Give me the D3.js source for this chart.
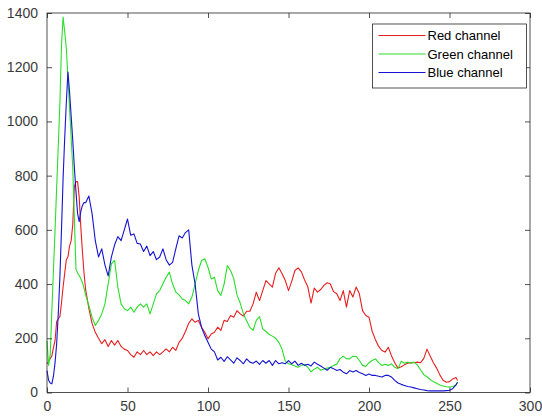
<!DOCTYPE html>
<html>
<head>
<meta charset="utf-8">
<script src="https://cdn.jsdelivr.net/npm/d3@7"></script>
<style>
  body { margin: 0; background: #fff; }
  svg { display: block; }
</style>
</head>
<body>
<script>
// Configuration
var width = 542;
var height = 418;
var plotLeft = 47;
var plotRight = 530;
var plotTop = 13;
var plotBottom = 392.5;
var fontFamily = 'Liberation Sans, Arial, Helvetica, sans-serif';

// Intensity bins: every bin up to 23, then every second bin
var bins = [
    0, 1, 2, 3, 4, 5, 6, 7, 8, 9, 10, 11, 12, 13, 14, 15, 16, 17, 18, 19, 20, 21, 22, 23,
    24, 26, 28, 30, 32, 34, 36, 38, 40, 42, 44, 46, 48, 50, 52, 54, 56, 58, 60, 62,
    64, 66, 68, 70, 72, 74, 76, 78, 80, 82, 84, 86, 88, 90, 92, 94, 96, 98, 100, 102,
    104, 106, 108, 110, 112, 114, 116, 118, 120, 122, 124, 126, 128, 130, 132, 134, 136, 138, 140, 142,
    144, 146, 148, 150, 152, 154, 156, 158, 160, 162, 164, 166, 168, 170, 172, 174, 176, 178, 180, 182,
    184, 186, 188, 190, 192, 194, 196, 198, 200, 202, 204, 206, 208, 210, 212, 214, 216, 218, 220, 222,
    224, 226, 228, 230, 232, 234, 236, 238, 240, 242, 244, 246, 248, 250, 252, 254, 255
];

var redCounts = [
    106, 115, 125, 135, 165, 192, 262, 272, 280, 330, 390, 440, 490, 500, 540, 560, 620, 760, 778, 778, 720, 610, 520, 440,
    380, 310, 255, 222, 200, 180, 195, 170, 192, 175, 192, 170, 160, 155, 140, 130, 150, 140, 155, 140,
    150, 136, 150, 140, 150, 161, 150, 167, 155, 185, 200, 225, 255, 272, 259, 266, 241, 222, 198, 216,
    222, 241, 229, 266, 262, 284, 278, 302, 290, 282, 300, 300, 327, 370, 339, 376, 413, 401, 389, 440,
    460, 438, 413, 376, 410, 450, 460, 445, 415, 390, 330, 385, 370, 380, 395, 405, 400, 372, 364, 339,
    376, 315, 376, 352, 389, 364, 302, 284, 278, 225, 195, 170, 155, 149, 167, 135, 110, 90, 95, 102,
    108, 110, 110, 112, 110, 125, 160, 135, 110, 90, 65, 45, 38, 40, 50, 55, 44
];

var greenCounts = [
    190, 100, 140, 300, 450, 600, 757, 910, 1065, 1280, 1385, 1330, 1270, 1160, 1050, 940, 830, 640, 455, 440, 432, 420, 405, 385,
    360, 320, 278, 247, 266, 290, 327, 401, 475, 487, 389, 327, 309, 302, 315, 296, 315, 327, 315, 327,
    290, 327, 364, 376, 401, 425, 444, 400, 370, 360, 345, 339, 327, 352, 401, 450, 487, 493, 462, 419,
    425, 376, 358, 400, 468, 450, 420, 360, 330, 290, 265, 240, 229, 266, 280, 235, 225, 214, 208, 200,
    185, 160, 115, 106, 102, 98, 93, 100, 104, 93, 76, 86, 93, 82, 87, 90, 93, 100, 104, 125,
    134, 125, 124, 134, 133, 118, 100, 96, 110, 118, 124, 110, 100, 104, 100, 106, 93, 88, 115, 108,
    112, 108, 112, 102, 84, 66, 58, 48, 40, 34, 28, 24, 21, 20, 22, 28, 38
];

var blueCounts = [
    81, 45, 35, 32, 60, 110, 180, 290, 425, 600, 790, 940, 1070, 1182, 1110, 1020, 930, 830, 740, 660, 630, 668, 690, 701,
    700, 725, 660, 560, 500, 530, 470, 430, 500, 545, 575, 560, 600, 640, 580, 585, 550, 548, 520, 540,
    505, 520, 490, 500, 530, 490, 470, 480, 530, 578, 570, 590, 600, 470, 400, 290, 240, 210, 185, 160,
    150, 120, 130, 115, 132, 120, 108, 128, 118, 106, 124, 112, 108, 116, 104, 118, 108, 118, 100, 118,
    106, 110, 106, 118, 106, 116, 100, 108, 100, 104, 98, 112, 104, 98, 90, 82, 93, 88, 81, 85,
    75, 69, 81, 76, 81, 74, 69, 63, 68, 63, 63, 60, 57, 63, 63, 57, 45, 35, 30, 26,
    22, 20, 17, 14, 11, 9, 7, 6, 6, 6, 6, 6, 7, 8, 14, 28, 38
];

var seriesNames = ['Red channel', 'Green channel', 'Blue channel'];
var seriesColors = ['#e81e1e', '#2ade2a', '#1414d2'];
var xTicks = [0, 50, 100, 150, 200, 250, 300];
var yTicks = [0, 200, 400, 600, 800, 1000, 1200, 1400];

function onload() {
    var svg = d3.select('body')
        .append('svg')
        .attr('width', width)
        .attr('height', height);

    var x = d3.scaleLinear().domain([0, 300]).range([plotLeft, plotRight]);
    var y = d3.scaleLinear().domain([0, 1400]).range([plotBottom, plotTop]);

    var allSeries = [redCounts, greenCounts, blueCounts];

    var line = d3.line()
        .x(function(d, i) { return x(bins[i]); })
        .y(function(d) { return y(d); });

    svg.append('g')
        .selectAll('path')
        .data(allSeries)
        .enter()
        .append('path')
        .attr('d', line)
        .attr('fill', 'none')
        .attr('stroke', function(d, i) { return seriesColors[i]; })
        .attr('stroke-width', 1.1)
        .attr('stroke-linejoin', 'round');

    // axes, MATLAB style: box with inward ticks on all four sides
    var axisColor = '#262626';
    var labelColor = '#3a3a3a';
    var tickLen = 5;
    var fmt = d3.format('d');

    var bottomAxis = d3.axisBottom(x).tickValues(xTicks).tickSizeInner(-tickLen).tickSizeOuter(0).tickPadding(9).tickFormat(fmt);
    var topAxis = d3.axisTop(x).tickValues(xTicks).tickSizeInner(-tickLen).tickSizeOuter(0).tickFormat('');
    var leftAxis = d3.axisLeft(y).tickValues(yTicks).tickSizeInner(-tickLen).tickSizeOuter(0).tickPadding(9).tickFormat(fmt);
    var rightAxis = d3.axisRight(y).tickValues(yTicks).tickSizeInner(-tickLen).tickSizeOuter(0).tickFormat('');

    var gb = svg.append('g').attr('transform', 'translate(0,' + plotBottom + ')').call(bottomAxis);
    var gt = svg.append('g').attr('transform', 'translate(0,' + plotTop + ')').call(topAxis);
    var gl = svg.append('g').attr('transform', 'translate(' + plotLeft + ',0)').call(leftAxis);
    var gr = svg.append('g').attr('transform', 'translate(' + plotRight + ',0)').call(rightAxis);

    [gb, gt, gl, gr].forEach(function(g) {
        g.select('.domain').remove();
        g.selectAll('line').attr('stroke', axisColor).attr('stroke-width', 0.8);
        g.selectAll('text')
            .attr('fill', labelColor)
            .style('font-family', fontFamily)
            .style('font-size', '14px');
    });

    svg.append('rect')
        .attr('x', plotLeft)
        .attr('y', plotTop)
        .attr('width', plotRight - plotLeft)
        .attr('height', plotBottom - plotTop)
        .attr('fill', 'none')
        .attr('stroke', axisColor)
        .attr('stroke-width', 0.8);

    // legend
    var legendX = 372.5;
    var legendY = 24;
    var legendW = 154;
    var legendH = 64;

    var legend = svg.append('g');
    legend.append('rect')
        .attr('x', legendX)
        .attr('y', legendY)
        .attr('width', legendW)
        .attr('height', legendH)
        .attr('fill', '#fff')
        .attr('stroke', axisColor)
        .attr('stroke-width', 0.8);

    var entries = legend.selectAll('g.entry')
        .data(seriesNames)
        .enter()
        .append('g')
        .attr('class', 'entry')
        .attr('transform', function(d, i) { return 'translate(0,' + (legendY + 11.5 + i * 18.5) + ')'; });

    entries.append('line')
        .attr('x1', legendX + 6)
        .attr('x2', legendX + 53)
        .attr('y1', 0)
        .attr('y2', 0)
        .attr('stroke', function(d, i) { return seriesColors[i]; })
        .attr('stroke-width', 1.1);

    entries.append('text')
        .attr('x', legendX + 55)
        .attr('y', 0)
        .attr('dy', '0.35em')
        .attr('fill', '#000')
        .style('font-family', fontFamily)
        .style('font-size', '13px')
        .text(function(d) { return d; });
}

onload();
</script>
</body>
</html>
